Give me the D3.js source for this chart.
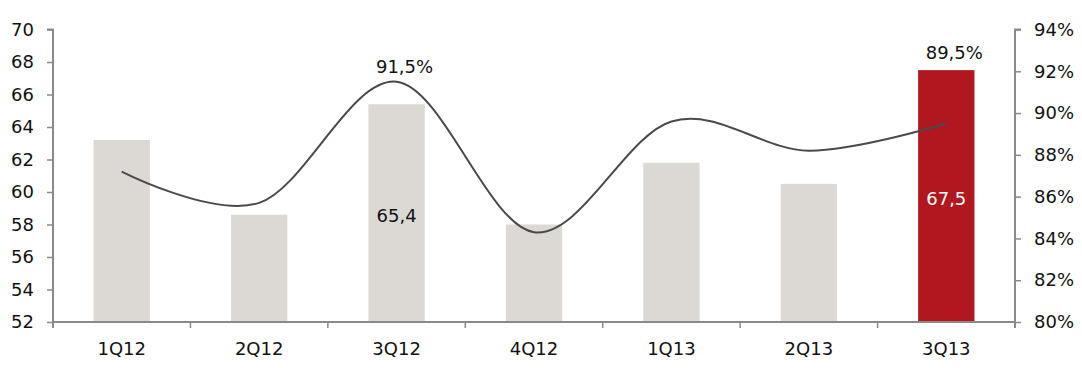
<!DOCTYPE html>
<html>
<head>
<meta charset="utf-8">
<script src="https://cdn.jsdelivr.net/npm/d3@7"></script>
<style>
  html, body { margin: 0; padding: 0; background: #fff; }
  svg { display: block; font-family: "DejaVu Sans", Verdana, sans-serif; }
</style>
</head>
<body>
<svg id="chart" width="1082" height="368"></svg>
<script>
// Quarterly values (bars, left axis) and ratio in % (line, right axis)
const quarters = ["1Q12", "2Q12", "3Q12", "4Q12", "1Q13", "2Q13", "3Q13"];
const barValues = [63.2, 58.6, 65.4, 58.0, 61.8, 60.5, 67.5];
const ratioValues = [87.2, 85.7, 91.5, 84.3, 89.6, 88.2, 89.5];
const leftTicks = [52, 54, 56, 58, 60, 62, 64, 66, 68, 70];
const rightTicks = [80, 82, 84, 86, 88, 90, 92, 94];
// Which points carry a printed value
const barLabelIdx = [2, 6];
const ratioLabelIdx = [2, 6];

(function () {
  const svg = d3.select("#chart");
  const plotLeft = 53, plotRight = 1015, plotTop = 29.5, plotBottom = 322;
  const axisColor = "#8a8a8a";
  const fontSize = 18;
  const fmt = v => d3.format(".1f")(v).replace(".", ",");
  const last = quarters.length - 1;

  const xb = d3.scaleBand().domain(quarters).range([plotLeft, plotRight]);
  const cx = q => xb(q) + xb.bandwidth() / 2;
  const yL = d3.scaleLinear().domain([52, 70]).range([plotBottom, plotTop]);
  const yR = d3.scaleLinear().domain([80, 94]).range([plotBottom, plotTop]);
  const barW = xb.bandwidth() * 0.41;

  // Bars
  svg.append("g").selectAll("rect").data(barValues).join("rect")
    .attr("x", (d, i) => cx(quarters[i]) - barW / 2)
    .attr("width", barW)
    .attr("y", d => yL(d))
    .attr("height", d => plotBottom - yL(d))
    .attr("fill", (d, i) => i === last ? "#b0171f" : "#dcd9d5");

  // Smoothed ratio line
  const line = d3.line()
    .x((d, i) => cx(quarters[i]))
    .y(d => yR(d))
    .curve(d3.curveCatmullRom.alpha(0));
  svg.append("path").datum(ratioValues)
    .attr("d", line)
    .attr("fill", "none")
    .attr("stroke", "#4a4a4a")
    .attr("stroke-width", 2);

  // Left axis
  const gL = svg.append("g").attr("transform", `translate(${plotLeft},0)`)
    .call(d3.axisLeft(yL).tickValues(leftTicks).tickSize(6).tickPadding(13).tickFormat(d3.format("d")));
  // Right axis
  const gR = svg.append("g").attr("transform", `translate(${plotRight},0)`)
    .call(d3.axisRight(yR).tickValues(rightTicks).tickSize(6).tickPadding(13).tickFormat(d => d + "%"));
  // Bottom axis: ticks sit between categories
  const gB = svg.append("g").attr("transform", `translate(0,${plotBottom})`)
    .call(d3.axisBottom(xb).tickSize(0).tickPadding(20));
  gB.selectAll(".tick").append("line")
    .attr("class", "sep")
    .attr("x1", xb.bandwidth() / 2).attr("x2", xb.bandwidth() / 2)
    .attr("y1", 0).attr("y2", 6);

  [gL, gR, gB].forEach(g => {
    g.select(".domain").attr("stroke", axisColor).attr("stroke-width", 2).attr("fill", "none");
    g.selectAll(".tick line").attr("stroke", axisColor).attr("stroke-width", 1.5);
    g.selectAll("text").attr("fill", "#111").attr("font-size", fontSize)
      .attr("font-family", "DejaVu Sans, Verdana, sans-serif");
  });
  gL.select(".domain").attr("d", `M-6,${plotTop}H0V${plotBottom + 6}`);
  gR.select(".domain").attr("d", `M6,${plotTop}H0V${plotBottom + 6}`);
  gB.select(".domain").attr("d", `M${plotLeft},0H${plotRight}`);

  // Value labels
  const labels = svg.append("g").attr("font-size", fontSize).attr("text-anchor", "middle");
  barLabelIdx.forEach(i => {
    const mid = (yL(barValues[i]) + plotBottom) / 2 + 2.5;
    labels.append("text")
      .attr("x", cx(quarters[i])).attr("y", mid)
      .attr("dy", "0.35em")
      .attr("fill", i === last ? "#ffffff" : "#111")
      .text(fmt(barValues[i]));
  });
  ratioLabelIdx.forEach(i => {
    const yText = i === last ? yL(barValues[i]) - 11 : yR(ratioValues[i]) - 9;
    labels.append("text")
      .attr("x", cx(quarters[i]) + 8).attr("y", yText)
      .attr("fill", "#111")
      .text(fmt(ratioValues[i]) + "%");
  });
})();
</script>
</body>
</html>
